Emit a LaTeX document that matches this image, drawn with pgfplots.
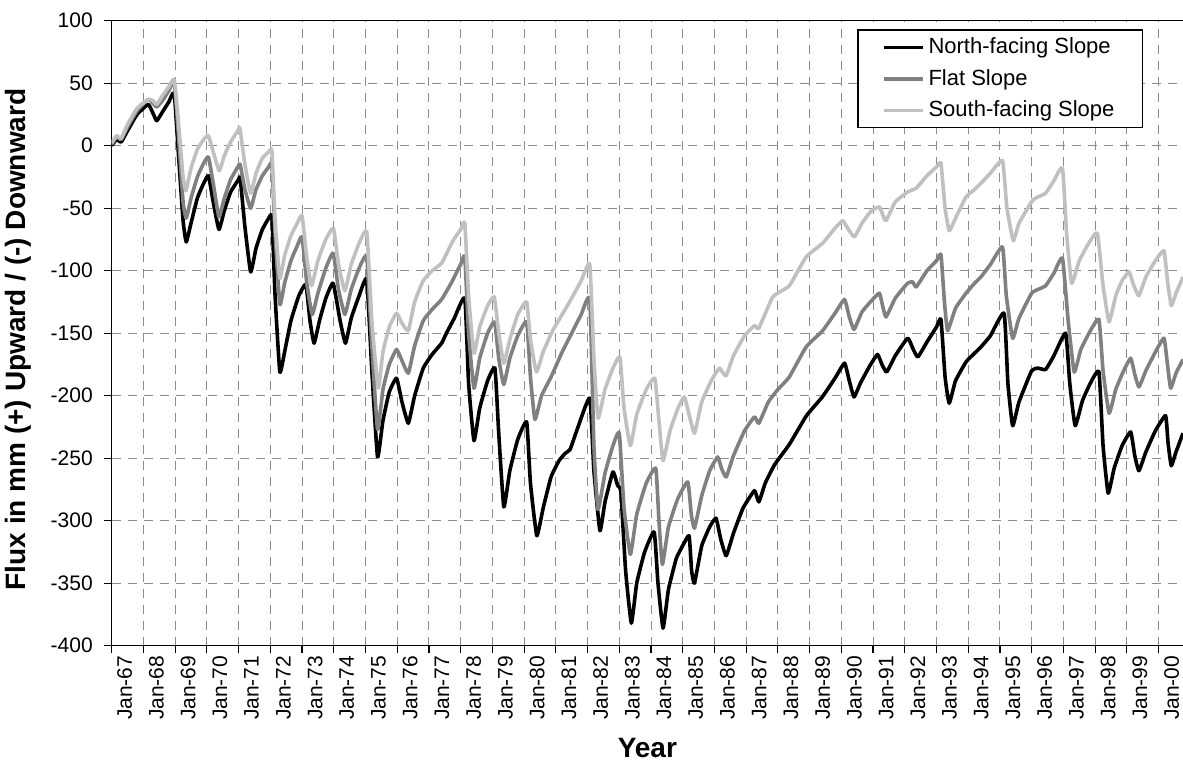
\documentclass[border=0pt]{standalone}
\usepackage{fontspec}
\setmainfont{Liberation Sans}
\usepackage{pgfplots}
\pgfplotsset{compat=1.18}
\definecolor{flatc}{HTML}{808080}
\definecolor{southc}{HTML}{C0C0C0}
\definecolor{gridc}{HTML}{8C8C8C}
\begin{document}
\begin{tikzpicture}
\begin{axis}[
  scale only axis,
  width=535.65pt, height=312.5pt,
  xmin=0, xmax=33.77,
  ymin=-400, ymax=100,
  axis x line*=box,
  axis y line*=left,
  axis line style={line width=0.8pt},
  xtick={0,1,...,33},
  xticklabels={Jan-67,Jan-68,Jan-69,Jan-70,Jan-71,Jan-72,Jan-73,Jan-74,Jan-75,Jan-76,Jan-77,Jan-78,Jan-79,Jan-80,Jan-81,Jan-82,Jan-83,Jan-84,Jan-85,Jan-86,Jan-87,Jan-88,Jan-89,Jan-90,Jan-91,Jan-92,Jan-93,Jan-94,Jan-95,Jan-96,Jan-97,Jan-98,Jan-99,Jan-00},
  ytick={-400,-350,...,100},
  tick align=outside,
  major tick length=3.8pt,
  tick style={line width=0.6pt, black},
  xtick pos=bottom,
  ytick pos=left,
  /pgf/number format/assume math mode=true,
  yticklabel style={font=\fontsize{10.5}{12}\selectfont, inner sep=1pt, xshift=-4.5pt},
  xticklabel style={font=\fontsize{10.5}{12}\selectfont, rotate=90, anchor=east, inner sep=1pt, yshift=-6.5pt},
  grid=major,
  major grid style={gridc, line width=0.5pt, dash pattern=on 4.5pt off 3.5pt},
  xlabel={Year},
  ylabel={Flux in mm (+) Upward / (-) Downward},
  xlabel style={font=\bfseries\fontsize{14}{16}\selectfont, at={(axis description cs:0.5,0)}, anchor=base, yshift=-56pt},
  ylabel style={font=\bfseries\fontsize{14}{16}\selectfont, at={(axis description cs:0,0.49)}, anchor=center, yshift=46.7pt},
  legend style={at={(0.9627,0.986)}, anchor=north east, draw=black, line width=0.6pt,
    font=\fontsize{11}{13}\selectfont, inner xsep=12pt, inner ysep=3pt, row sep=4.25pt,
    nodes={inner ysep=1pt, inner xsep=2pt}, legend cell align=left},
  legend image code/.code={\draw[#1] (0pt,0pt) -- (19.5pt,0pt);},
  every axis plot/.append style={line width=1.8pt, line join=round, mark=none, smooth, tension=0.25},
]
\addplot[black] coordinates {
(0,0) (0.15,5) (0.3,3) (0.5,12) (0.8,25) (1.15,33) (1.3,26) (1.42,20) (1.6,27) (1.8,35) (1.97,42)
(2.1,-5) (2.25,-60) (2.35,-77) (2.5,-62) (2.7,-42) (2.9,-30) (3.05,-24) (3.2,-45) (3.38,-67) (3.55,-52)
(3.75,-37) (4.0,-27) (4.05,-26) (4.2,-65) (4.38,-101) (4.55,-82) (4.75,-67) (4.95,-58) (5.05,-57)
(5.15,-120) (5.3,-181) (5.45,-165) (5.65,-140) (5.9,-120) (6.12,-111) (6.25,-140) (6.38,-158) (6.55,-140)
(6.75,-122) (6.98,-110) (7.2,-140) (7.37,-158) (7.55,-138) (7.8,-120) (8.04,-107) (8.2,-180) (8.38,-249)
(8.55,-220) (8.75,-197) (8.98,-186) (9.15,-205) (9.35,-222) (9.55,-200) (9.82,-178) (10.1,-167) (10.4,-158)
(10.55,-150) (10.8,-138) (11.13,-122) (11.25,-190) (11.42,-236) (11.6,-210) (11.85,-188) (12.08,-178)
(12.2,-230) (12.36,-289) (12.55,-260) (12.8,-235) (13.08,-221) (13.2,-270) (13.4,-312) (13.6,-290)
(13.85,-265) (14.1,-252) (14.3,-246) (14.45,-243) (14.7,-225) (15.07,-202) (15.2,-260) (15.39,-308)
(15.55,-285) (15.8,-261) (15.95,-272) (16.05,-277) (16.2,-340) (16.38,-382) (16.55,-350) (16.8,-325)
(17.1,-309) (17.22,-350) (17.38,-386) (17.55,-355) (17.8,-330) (18.0,-320) (18.2,-312) (18.28,-340)
(18.37,-350) (18.6,-320) (18.85,-305) (19.05,-298) (19.2,-315) (19.37,-328) (19.6,-310) (19.9,-290)
(20.26,-276) (20.4,-285) (20.6,-270) (20.9,-255) (21.36,-239) (21.9,-216) (22.4,-201) (22.8,-186)
(23.1,-174) (23.25,-188) (23.4,-201) (23.6,-190) (23.9,-176) (24.14,-167) (24.28,-175) (24.43,-181)
(24.7,-168) (25.09,-154) (25.25,-162) (25.41,-169) (25.7,-157) (26.0,-145) (26.14,-139) (26.27,-185)
(26.4,-206) (26.6,-188) (26.93,-173) (27.2,-166) (27.4,-161) (27.7,-152) (28.13,-134) (28.25,-190)
(28.4,-224) (28.6,-205) (29.0,-180) (29.2,-178) (29.44,-179) (29.7,-168) (30.07,-150) (30.2,-190)
(30.37,-224) (30.6,-204) (30.85,-190) (31.12,-181) (31.25,-240) (31.41,-278) (31.6,-258) (31.85,-240)
(32.12,-229) (32.25,-248) (32.38,-260) (32.6,-245) (32.9,-228) (33.22,-216) (33.3,-238) (33.4,-256)
(33.55,-245) (33.77,-230)
};
\addlegendentry{North-facing Slope}
\addplot[flatc] coordinates {
(0,1) (0.15,7) (0.3,5) (0.5,15) (0.8,28) (1.15,37) (1.3,34) (1.42,31) (1.6,36) (1.8,44) (1.97,51)
(2.1,10) (2.25,-45) (2.35,-58) (2.5,-42) (2.7,-25) (2.9,-14) (3.05,-9) (3.2,-30) (3.38,-57) (3.55,-42)
(3.75,-27) (4.0,-16) (4.05,-15) (4.2,-35) (4.38,-50) (4.55,-35) (4.75,-24) (4.95,-17) (5.05,-15)
(5.15,-70) (5.3,-127) (5.45,-110) (5.65,-92) (5.85,-80) (6.0,-73) (6.15,-110) (6.32,-135) (6.5,-118)
(6.75,-98) (6.98,-86) (7.15,-115) (7.35,-135) (7.55,-115) (7.8,-98) (8.04,-89) (8.2,-160) (8.38,-227)
(8.55,-195) (8.75,-175) (8.98,-163) (9.15,-172) (9.35,-182) (9.55,-160) (9.82,-140) (10.1,-131)
(10.4,-123) (10.7,-110) (11.0,-95) (11.13,-89) (11.25,-150) (11.42,-194) (11.6,-170) (11.85,-150)
(12.07,-141) (12.2,-170) (12.36,-191) (12.55,-170) (12.8,-152) (13.08,-141) (13.2,-185) (13.34,-219)
(13.55,-200) (13.85,-185) (14.2,-165) (14.5,-150) (14.8,-135) (15.07,-123) (15.2,-240) (15.33,-291)
(15.55,-262) (15.8,-240) (16.0,-230) (16.15,-290) (16.35,-327) (16.55,-295) (16.85,-270) (17.15,-258)
(17.25,-300) (17.36,-335) (17.55,-305) (17.85,-282) (18.16,-269) (18.27,-295) (18.37,-306) (18.6,-280)
(18.85,-260) (19.1,-249) (19.22,-258) (19.37,-265) (19.6,-248) (19.95,-228) (20.26,-217) (20.4,-222)
(20.7,-205) (21.0,-195) (21.36,-185) (21.89,-161) (22.41,-148) (22.8,-134) (23.1,-123) (23.25,-137)
(23.4,-147) (23.65,-133) (23.95,-124) (24.2,-118) (24.3,-128) (24.41,-137) (24.7,-122) (25.09,-110)
(25.25,-109) (25.36,-113) (25.7,-100) (26.0,-92) (26.14,-87) (26.25,-125) (26.35,-148) (26.6,-130)
(26.93,-118) (27.2,-110) (27.4,-105) (27.7,-95) (28.08,-81) (28.2,-120) (28.4,-154) (28.6,-138)
(29.0,-118) (29.2,-115) (29.44,-112) (29.7,-102) (29.97,-90) (30.15,-140) (30.34,-181) (30.55,-163)
(30.85,-148) (31.12,-139) (31.25,-180) (31.44,-214) (31.65,-195) (31.9,-180) (32.12,-170) (32.25,-183)
(32.38,-193) (32.6,-180) (32.9,-165) (33.17,-154) (33.28,-175) (33.38,-194) (33.55,-182) (33.77,-171)
};
\addlegendentry{Flat Slope}
\addplot[southc] coordinates {
(0,2) (0.15,8) (0.3,6) (0.5,17) (0.8,30) (1.15,37) (1.3,36) (1.42,33) (1.6,40) (1.8,47) (1.97,53)
(2.1,20) (2.25,-25) (2.34,-36) (2.5,-18) (2.7,-3) (2.9,5) (3.05,8) (3.2,-5) (3.39,-20) (3.55,-8)
(3.75,3) (4.0,13) (4.04,14) (4.2,-15) (4.38,-38) (4.55,-22) (4.75,-10) (4.95,-5) (5.05,-4)
(5.15,-60) (5.3,-106) (5.45,-88) (5.65,-72) (5.85,-62) (6.0,-56) (6.15,-90) (6.3,-112) (6.5,-92)
(6.75,-75) (6.99,-66) (7.15,-95) (7.35,-116) (7.55,-95) (7.8,-78) (8.04,-69) (8.2,-140) (8.4,-194)
(8.55,-165) (8.75,-145) (8.98,-134) (9.15,-142) (9.35,-148) (9.55,-125) (9.82,-108) (10.1,-100)
(10.4,-94) (10.6,-84) (10.76,-76) (11.0,-67) (11.13,-62) (11.25,-120) (11.42,-166) (11.6,-145)
(11.85,-128) (12.06,-121) (12.2,-150) (12.36,-174) (12.55,-155) (12.8,-135) (13.08,-125) (13.2,-155)
(13.39,-181) (13.6,-165) (13.9,-148) (14.2,-135) (14.5,-122) (14.8,-108) (15.07,-95) (15.2,-170)
(15.33,-218) (15.55,-195) (15.8,-178) (16.02,-169) (16.15,-210) (16.35,-240) (16.55,-215) (16.85,-195)
(17.12,-186) (17.25,-220) (17.38,-252) (17.6,-228) (17.85,-210) (18.05,-201) (18.2,-215) (18.37,-230)
(18.6,-205) (18.9,-188) (19.15,-178) (19.25,-181) (19.37,-184) (19.6,-168) (19.95,-152) (20.26,-144)
(20.4,-146) (20.84,-121) (21.36,-112) (21.89,-89) (22.41,-78) (22.8,-66) (23.04,-60) (23.2,-66)
(23.41,-73) (23.65,-62) (23.95,-52) (24.2,-49) (24.3,-55) (24.41,-60) (24.7,-45) (25.09,-37)
(25.36,-34) (25.7,-24) (26.0,-17) (26.14,-14) (26.27,-50) (26.4,-68) (26.6,-58) (26.93,-41)
(27.2,-35) (27.4,-30) (27.7,-22) (28.08,-12) (28.22,-50) (28.42,-76) (28.6,-62) (29.02,-44)
(29.2,-41) (29.44,-38) (29.7,-28) (29.97,-18) (30.1,-70) (30.26,-110) (30.5,-92) (30.8,-78)
(31.07,-70) (31.25,-112) (31.44,-141) (31.65,-120) (31.85,-108) (32.07,-101) (32.22,-112) (32.38,-120)
(32.6,-105) (32.9,-92) (33.17,-84) (33.28,-108) (33.4,-128) (33.55,-118) (33.77,-105)
};
\addlegendentry{South-facing Slope}
\coordinate (ll) at (rel axis cs:0,0);
\coordinate (ur) at (rel axis cs:1,1);
\end{axis}
\path (ll) ++(-55.85pt,-59.65pt) coordinate (bl);
\path (ur) ++(0pt,10.35pt) coordinate (tr);
\pgfresetboundingbox
\useasboundingbox (bl) rectangle (tr);
\end{tikzpicture}
\end{document}
